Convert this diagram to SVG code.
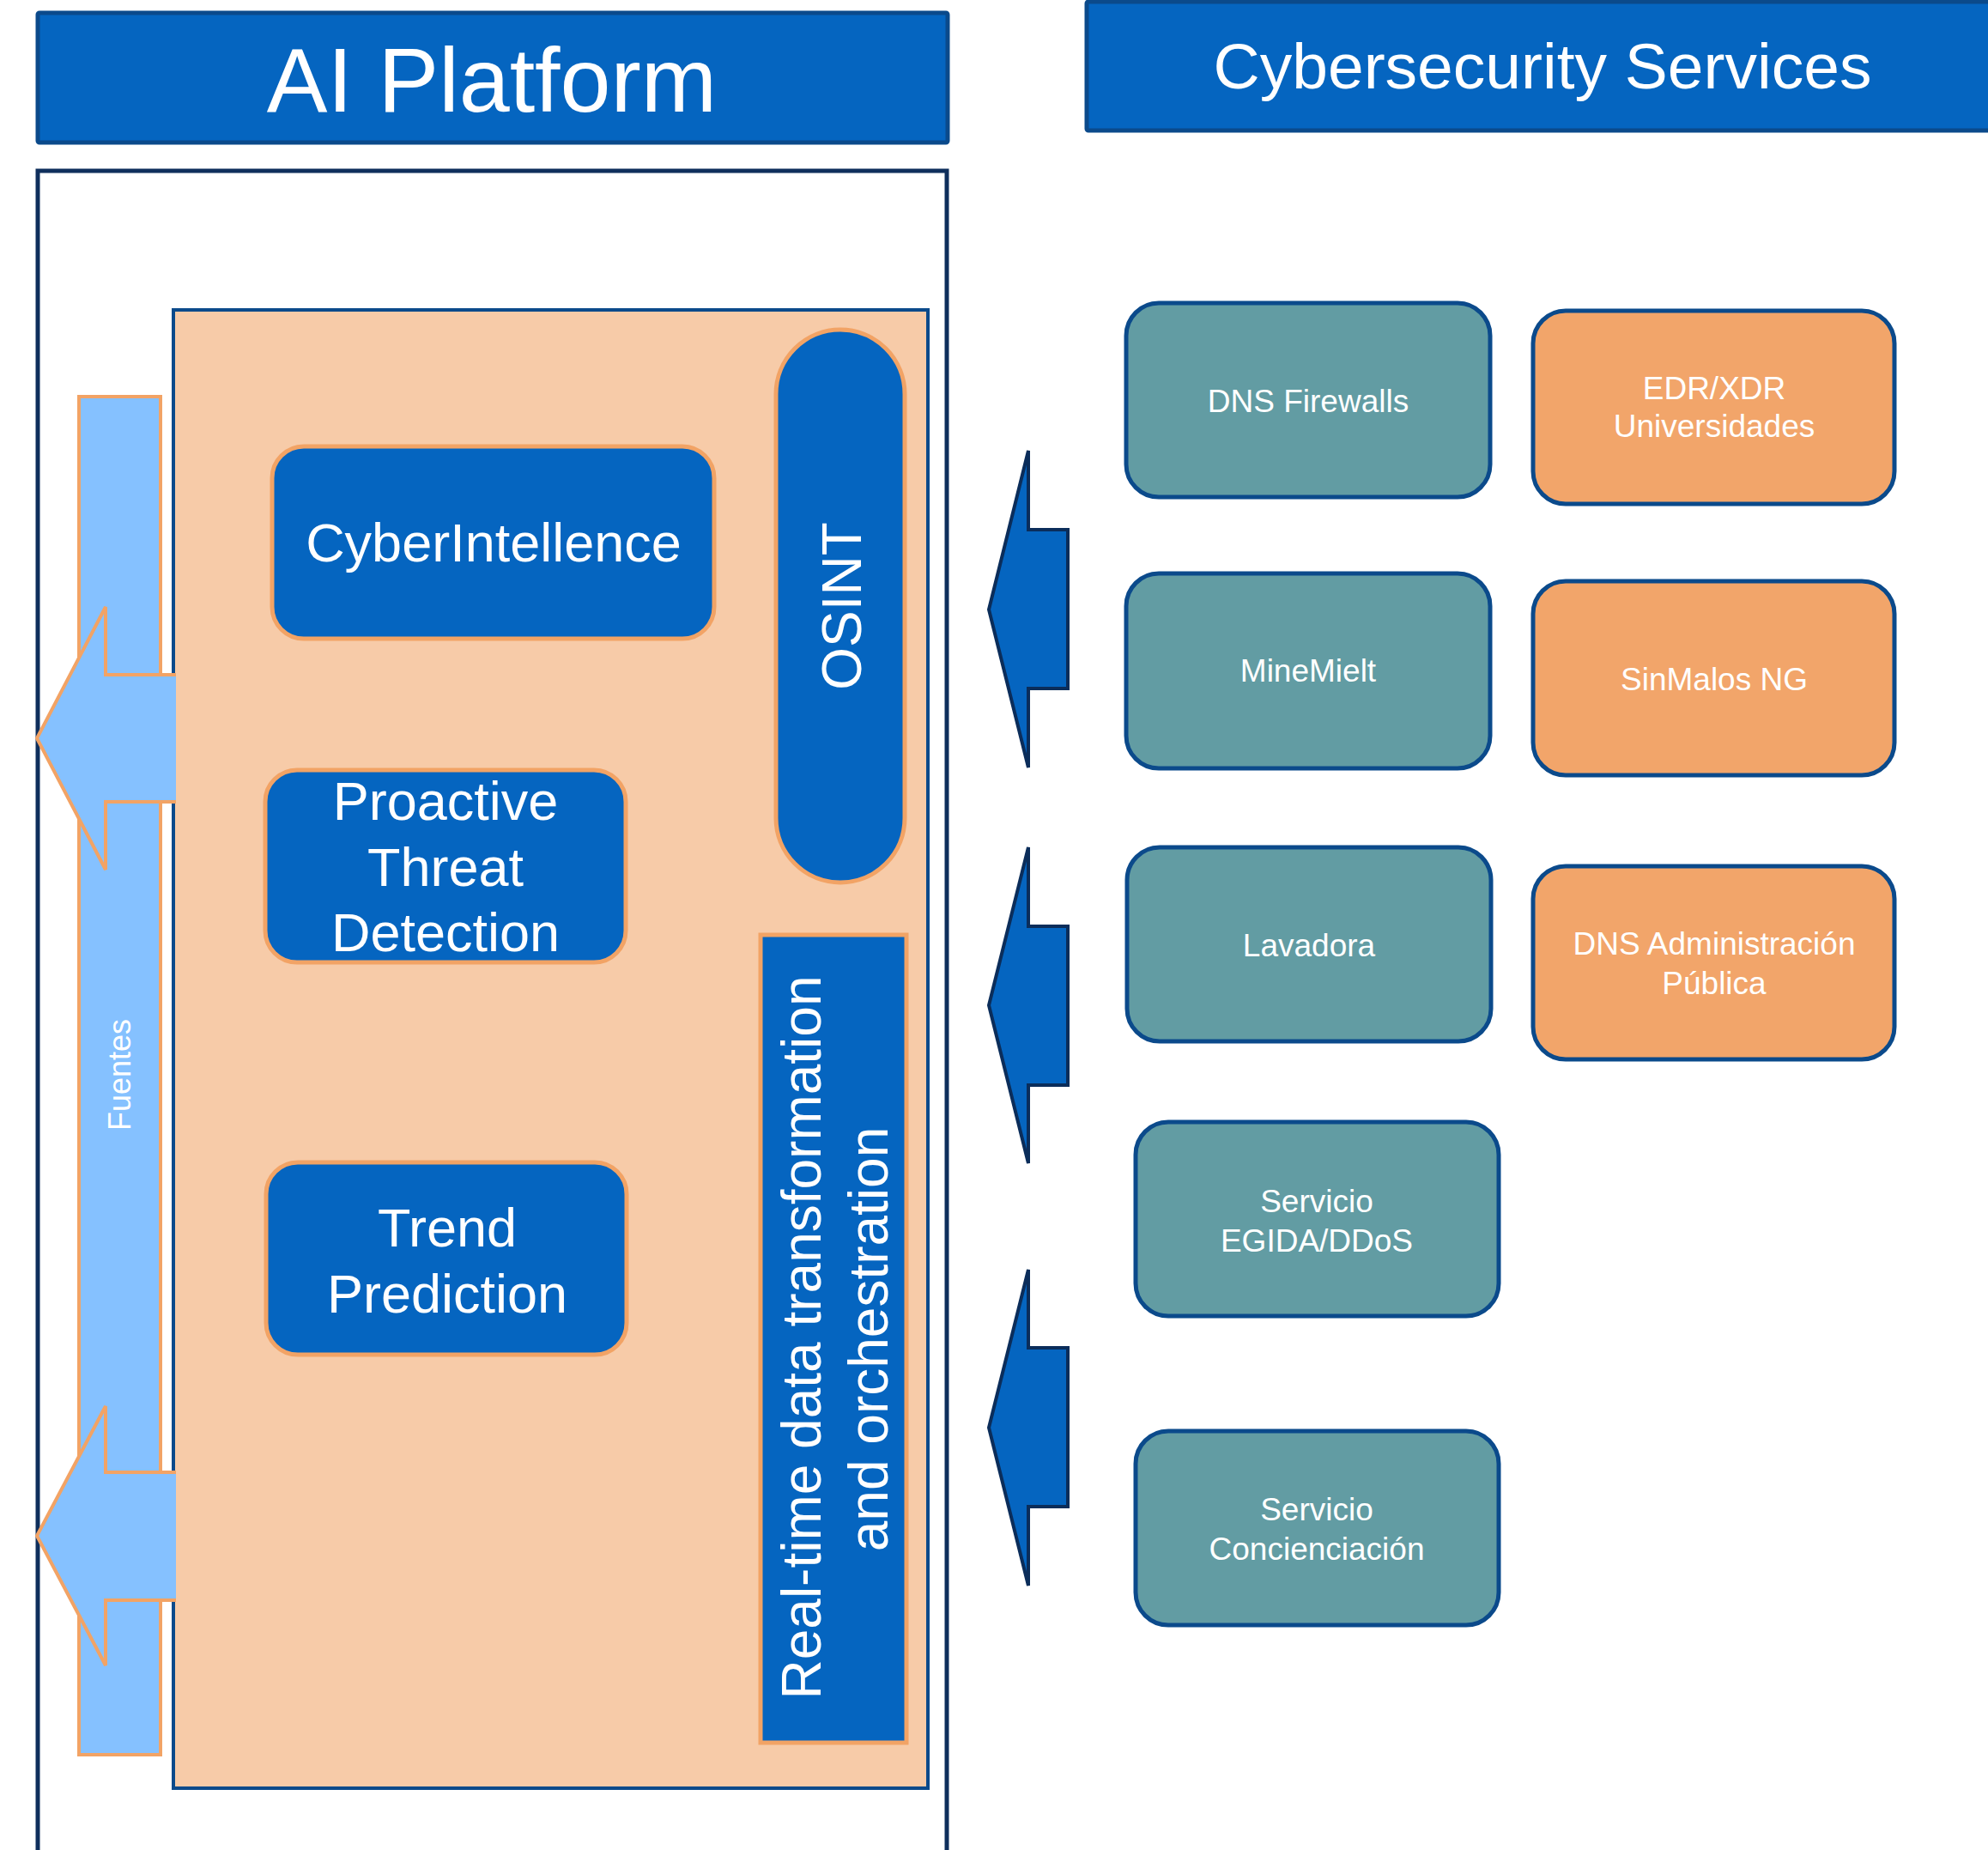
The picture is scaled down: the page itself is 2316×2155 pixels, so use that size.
<svg xmlns="http://www.w3.org/2000/svg" width="2316" height="2155" viewBox="0 0 2316 2155">
<style>
.t{font-family:"Liberation Sans",Arial,sans-serif;fill:#FFFFFF;text-anchor:middle}
.hdr{fill:#0565C0;stroke:#0B4A8B;stroke-width:5}
.blue{fill:#0565C0;stroke:#F2A365;stroke-width:5}
.teal{fill:#629CA3;stroke:#0B4A8B;stroke-width:5}
.orange{fill:#F2A56A;stroke:#0B4A8B;stroke-width:5}
.rarrow{fill:#0565C0;stroke:#0B2D5A;stroke-width:4;stroke-linejoin:miter}
.larrow{fill:#85C1FF;stroke:#F2A365;stroke-width:4;stroke-linejoin:miter}
.svc{font-size:37px}
</style>
<rect width="2316" height="2155" fill="#FFFFFF"/>

<g id="ai-platform-header">
<rect class="hdr" x="44" y="15" width="1060" height="151" rx="2"/>
<text class="t" x="573" y="130" font-size="106">AI Platform</text>
</g>

<g id="cyber-services-header">
<rect class="hdr" x="1266" y="2" width="1060" height="150" rx="2"/>
<text class="t" x="1797" y="103" font-size="75">Cybersecurity Services</text>
</g>

<g id="ai-platform-container">
<rect x="44" y="199" width="1059" height="2000" fill="#FFFFFF" stroke="#0F2F5C" stroke-width="5"/>
</g>

<g id="fuentes">
<rect x="92" y="462" width="95" height="1582" fill="#85C1FF" stroke="#F2A365" stroke-width="4"/>
<text class="t" transform="translate(152,1252) rotate(-90)" font-size="36">Fuentes</text>
</g>

<g id="core-panel">
<rect x="202" y="361" width="879" height="1722" fill="#F7CBA8" stroke="#0B4A8B" stroke-width="4"/>
</g>

<g id="cyberintellence">
<rect class="blue" x="317" y="520" width="515" height="224" rx="37"/>
<text class="t" x="575" y="654" font-size="63">CyberIntellence</text>
</g>

<g id="osint">
<rect class="blue" x="904" y="384" width="150" height="644" rx="75"/>
<text class="t" transform="translate(1003,706) rotate(-90)" font-size="64">OSINT</text>
</g>

<g id="proactive-threat-detection">
<rect class="blue" x="309" y="897" width="420" height="224" rx="37"/>
<text class="t" x="519" y="955" font-size="63">Proactive</text>
<text class="t" x="519" y="1032" font-size="63">Threat</text>
<text class="t" x="519" y="1108" font-size="63">Detection</text>
</g>

<g id="trend-prediction">
<rect class="blue" x="310" y="1354" width="420" height="224" rx="37"/>
<text class="t" x="521" y="1452" font-size="63">Trend</text>
<text class="t" x="521" y="1529" font-size="63">Prediction</text>
</g>

<g id="realtime-data">
<rect class="blue" x="886" y="1089" width="170" height="941"/>
<text class="t" transform="translate(956,1558) rotate(-90)" font-size="64">Real-time data transformation</text>
<text class="t" transform="translate(1034,1560) rotate(-90)" font-size="64">and orchestration</text>
</g>

<g id="dns-firewalls">
<rect class="teal" x="1312" y="353" width="424" height="226" rx="38"/>
<text class="t svc" x="1524" y="480">DNS Firewalls</text>
</g>

<g id="edr-xdr">
<rect class="orange" x="1786" y="362" width="421" height="225" rx="38"/>
<text class="t svc" x="1997" y="465">EDR/XDR</text>
<text class="t svc" x="1997" y="509">Universidades</text>
</g>

<g id="minemielt">
<rect class="teal" x="1312" y="668" width="424" height="227" rx="38"/>
<text class="t svc" x="1524" y="794">MineMielt</text>
</g>

<g id="sinmalos-ng">
<rect class="orange" x="1786" y="677" width="421" height="226" rx="38"/>
<text class="t svc" x="1997" y="804">SinMalos NG</text>
</g>

<g id="lavadora">
<rect class="teal" x="1313" y="987" width="424" height="226" rx="38"/>
<text class="t svc" x="1525" y="1114">Lavadora</text>
</g>

<g id="dns-administracion">
<rect class="orange" x="1786" y="1009" width="421" height="225" rx="38"/>
<text class="t svc" x="1997" y="1112">DNS Administración</text>
<text class="t svc" x="1997" y="1158">Pública</text>
</g>

<g id="servicio-egida">
<rect class="teal" x="1323" y="1307" width="423" height="226" rx="38"/>
<text class="t svc" x="1534" y="1412">Servicio</text>
<text class="t svc" x="1534" y="1458">EGIDA/DDoS</text>
</g>

<g id="servicio-concienciacion">
<rect class="teal" x="1323" y="1667" width="423" height="226" rx="38"/>
<text class="t svc" x="1534" y="1771">Servicio</text>
<text class="t svc" x="1534" y="1817">Concienciación</text>
</g>

<g id="connectors">
<path class="larrow" d="M205,786 L123,786 L123,707 L43,860 L123,1013 L123,934 L205,934"/>
<path class="larrow" d="M205,1715 L123,1715 L123,1638 L43,1789 L123,1940 L123,1864 L205,1864"/>
<path class="rarrow" d="M1198,525 L1198,617 L1244,617 L1244,802 L1198,802 L1198,894 L1152,710 Z"/>
<path class="rarrow" d="M1198,987 L1198,1079 L1244,1079 L1244,1264 L1198,1264 L1198,1355 L1152,1171 Z"/>
<path class="rarrow" d="M1198,1479 L1198,1570 L1244,1570 L1244,1755 L1198,1755 L1198,1847 L1152,1663 Z"/>
</g>
</svg>
